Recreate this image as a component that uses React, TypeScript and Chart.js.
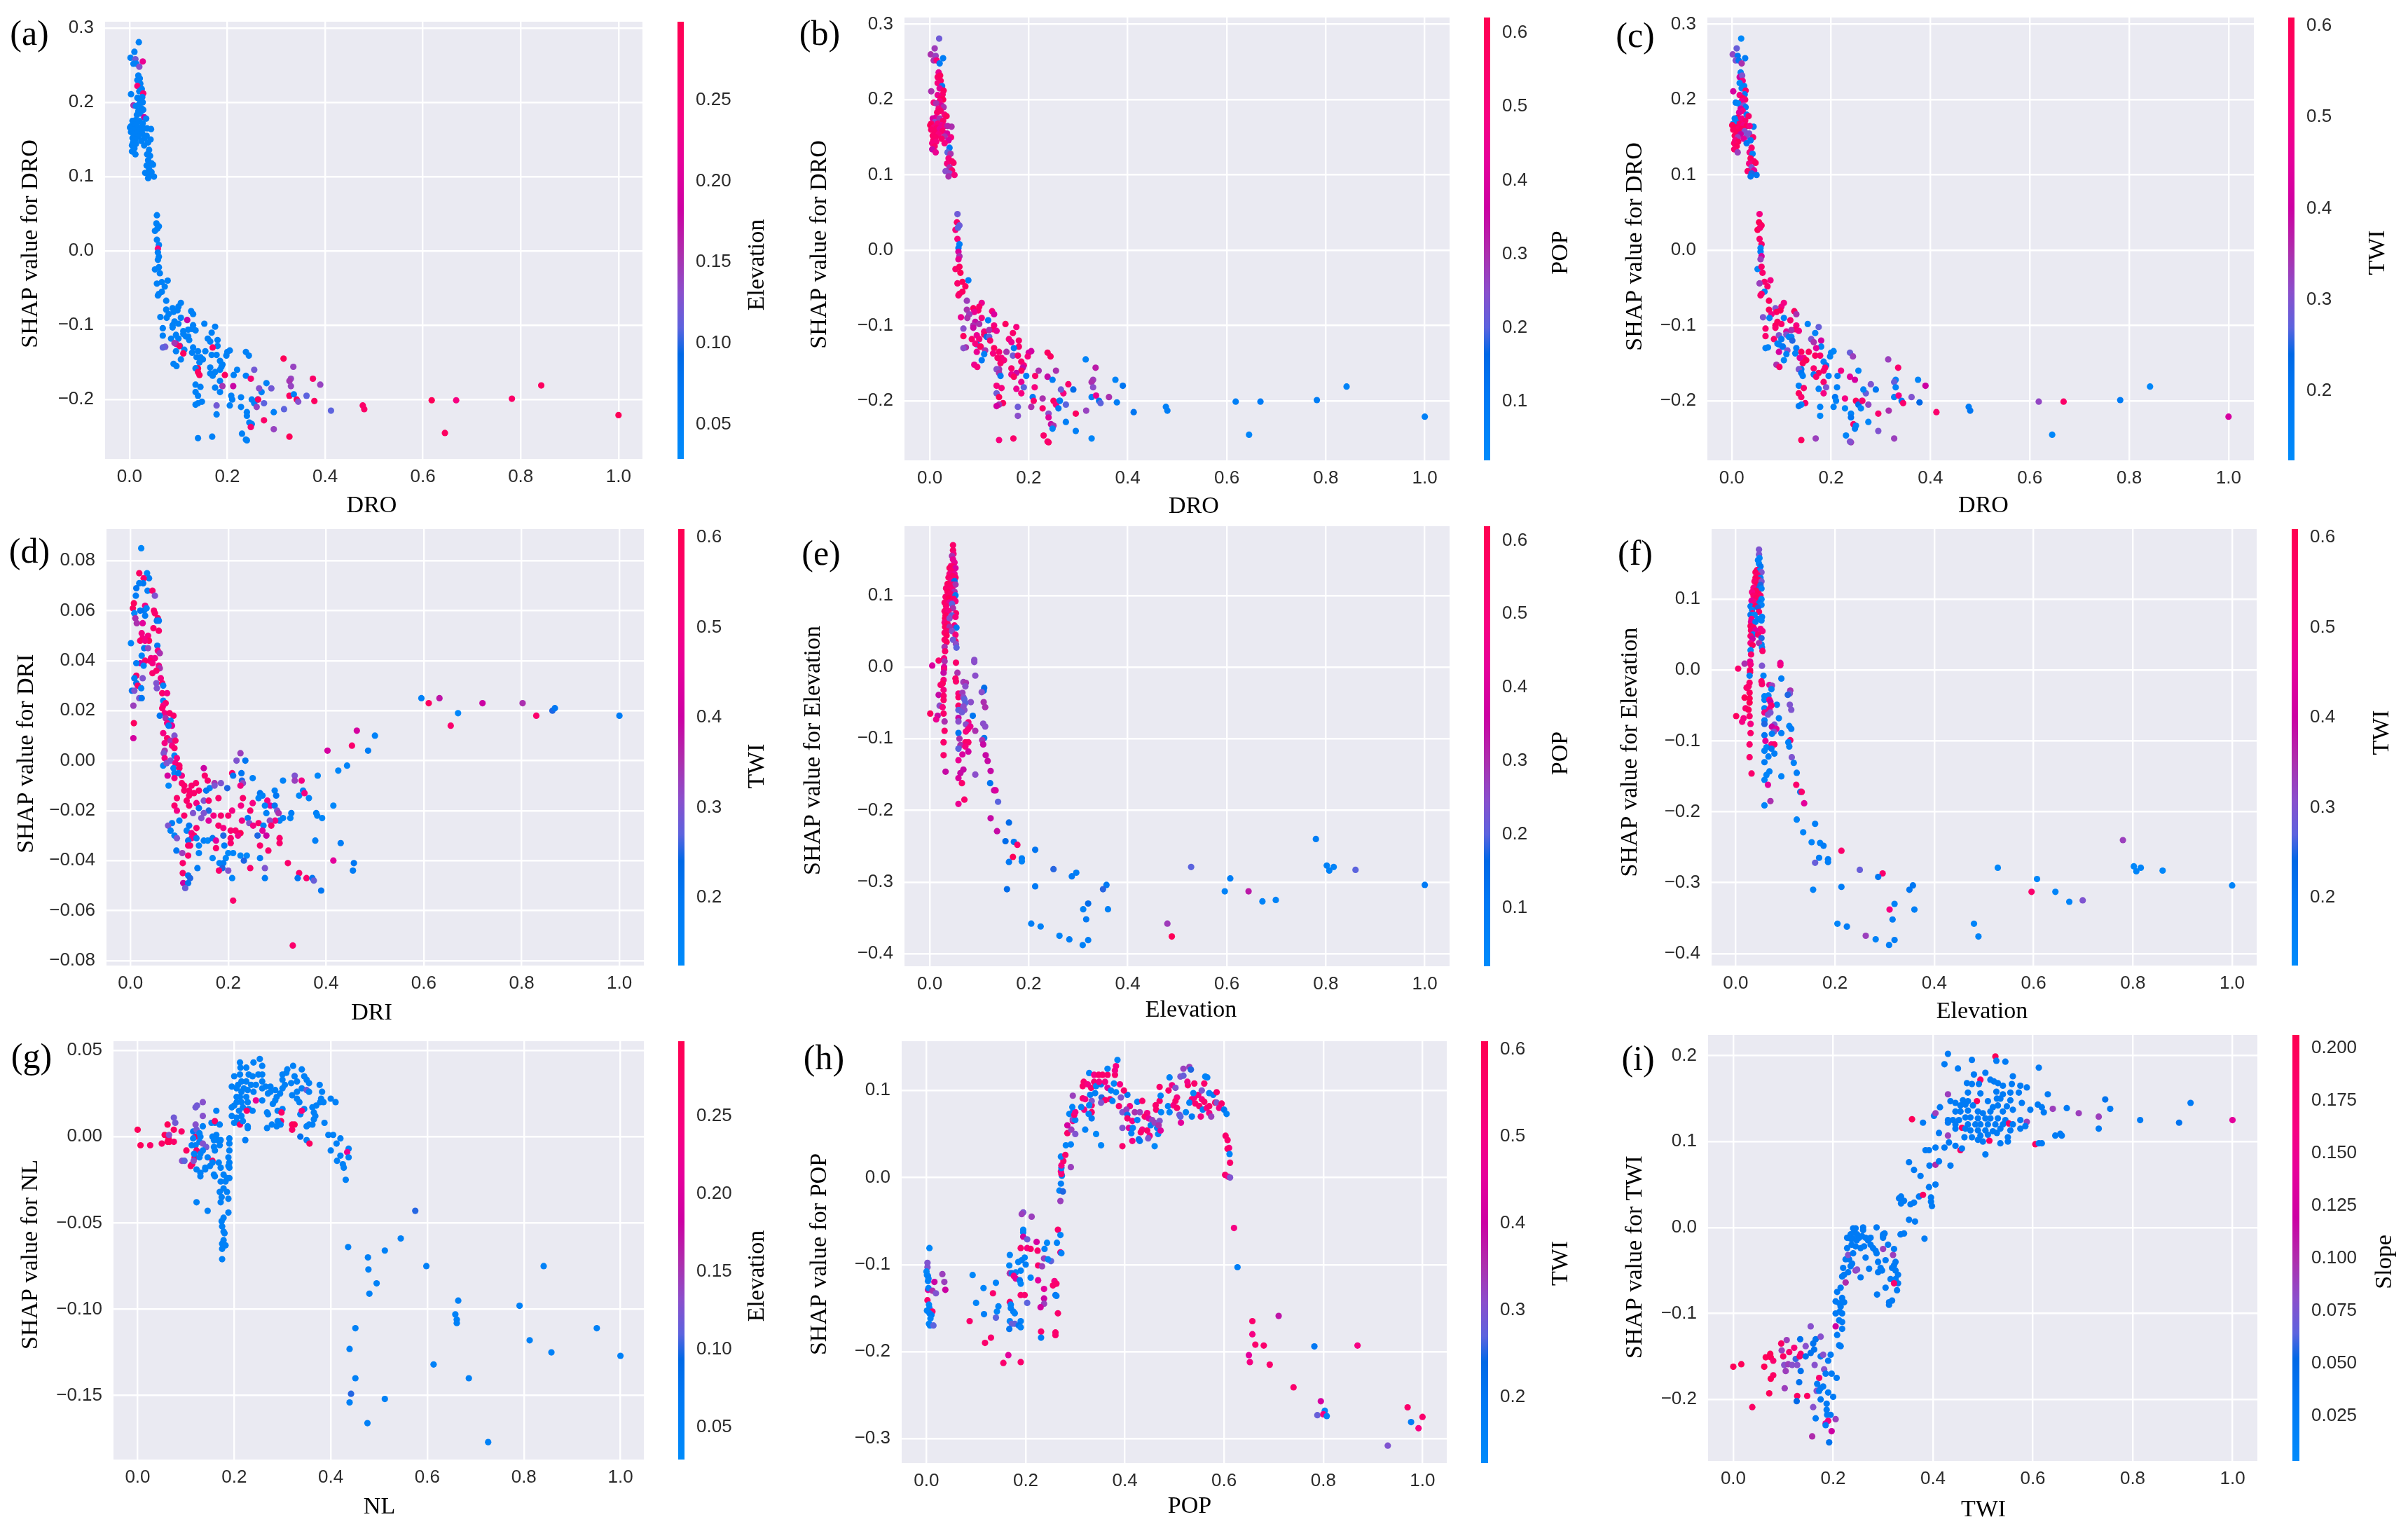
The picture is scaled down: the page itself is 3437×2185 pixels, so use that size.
import React, { useEffect, useRef } from "react";
import { Chart, registerables } from "chart.js";

Chart.register(...registerables);

// [x, shap, elevation, pop, twi]
const droPoints = [
[.019,.281,.05,.22,.13],[.010,.268,.05,.28,.28],[.002,.260,.05,.30,.32],[.012,.258,.12,.27,.2],[.027,.255,.22,.08,.18],[.008,.252,.05,.3,.3],[.014,.252,.05,.5,.2],[.020,.248,.13,.09,.35],[.018,.236,.05,.45,.17],[.016,.230,.05,.55,.4],[.021,.232,.05,.58,.3],[.022,.225,.05,.56,.5],[.016,.222,.25,.5,.13],[.025,.218,.05,.1,.15],[.020,.215,.05,.42,.14],[.028,.212,.25,.58,.55],[.003,.211,.05,.3,.42],[.026,.207,.05,.55,.2],[.016,.206,.05,.45,.5],[.022,.202,.05,.55,.58],[.027,.200,.05,.6,.55],[.020,.198,.05,.5,.48],[.008,.196,.15,.5,.17],[.013,.195,.05,.3,.15],[.024,.192,.05,.4,.3],[.028,.190,.05,.3,.18],[.018,.188,.05,.5,.42],[.022,.185,.05,.55,.5],[.015,.183,.05,.55,.45],[.030,.180,.18,.5,.18],[.034,.178,.05,.58,.55],[.012,.176,.05,.45,.58],[.006,.175,.05,.4,.17],[.020,.175,.05,.3,.5],[.027,.172,.05,.55,.55],[.010,.170,.05,.25,.16],[.016,.168,.05,.5,.55],[.003,.168,.05,.55,.14],[.001,.166,.05,.6,.58],[.024,.166,.05,.45,.5],[.030,.165,.05,.5,.58],[.044,.164,.05,.3,.17],[.036,.165,.05,.32,.5],[.008,.163,.05,.5,.6],[.014,.162,.05,.55,.55],[.020,.161,.05,.45,.58],[.003,.160,.05,.55,.58],[.026,.158,.05,.55,.3],[.010,.157,.05,.55,.58],[.035,.155,.05,.4,.3],[.018,.154,.05,.5,.4],[.006,.152,.05,.55,.58],[.030,.151,.05,.3,.3],[.043,.150,.05,.5,.55],[.012,.150,.05,.55,.33],[.024,.148,.05,.55,.45],[.007,.146,.05,.55,.5],[.038,.146,.05,.4,.18],[.013,.144,.05,.5,.58],[.005,.142,.05,.5,.55],[.030,.142,.05,.5,.2],[.010,.138,.05,.55,.58],[.005,.134,.05,.35,.55],[.040,.136,.05,.1,.55],[.012,.130,.05,.45,.33],[.036,.130,.05,.2,.5],[.042,.128,.05,.3,.16],[.038,.122,.05,.5,.58],[.045,.118,.05,.55,.55],[.048,.116,.05,.55,.58],[.035,.115,.05,.5,.5],[.040,.110,.05,.3,.3],[.032,.105,.05,.25,.55],[.045,.106,.05,.55,.45],[.040,.102,.05,.25,.25],[.050,.100,.05,.5,.2],[.038,.098,.05,.3,.2],
[.056,.048,.05,.22,.5],[.055,.037,.05,.55,.6],[.060,.033,.05,.22,.58],[.052,.027,.05,.5,.6],[.057,.030,.05,.2,.55],[.056,.015,.05,.5,.55],[.060,.008,.05,.08,.55],[.058,.003,.25,.1,.14],[.058,-.002,.05,.4,.17],[.060,-.008,.05,.3,.42],[.058,-.012,.05,.45,.33],[.052,-.025,.05,.55,.14],[.060,-.022,.05,.58,.55],[.062,-.030,.05,.6,.55],[.078,-.040,.05,.08,.5],[.066,-.042,.05,.6,.55],[.056,-.044,.05,.55,.33],[.072,-.048,.05,.58,.55],[.066,-.055,.05,.58,.15],[.060,-.058,.05,.58,.55],[.058,-.060,.05,.55,.55],[.075,-.067,.05,.28,.58],[.105,-.070,.05,.45,.5],[.100,-.075,.05,.55,.5],[.126,-.081,.05,.5,.58],[.088,-.077,.05,.58,.3],[.075,-.079,.05,.3,.58],[.098,-.080,.05,.55,.58],[.130,-.085,.05,.4,.35],[.090,-.082,.05,.45,.58],[.080,-.085,.05,.28,.5],[.063,-.089,.05,.45,.3],[.076,-.090,.05,.3,.15],[.105,-.090,.05,.5,.16],[.092,-.095,.05,.35,.58],[.118,-.093,.18,.08,.55],[.088,-.100,.05,.3,.58],[.100,-.098,.05,.3,.55],[.153,-.098,.05,.58,.15],[.068,-.104,.05,.25,.55],[.088,-.103,.05,.35,.55],[.175,-.102,.05,.5,.28],[.130,-.100,.05,.5,.5],[.128,-.105,.05,.55,.55],[.110,-.108,.05,.5,.45],[.120,-.106,.05,.3,.35],[.135,-.107,.05,.45,.5],[.110,-.112,.05,.55,.3],[.168,-.110,.05,.55,.16],[.095,-.113,.05,.45,.3],[.068,-.114,.05,.58,.55],[.115,-.115,.05,.15,.15],[.085,-.118,.05,.55,.55],[.120,-.115,.05,.2,.15],[.100,-.118,.05,.5,.18],[.160,-.118,.05,.5,.3],[.180,-.120,.05,.55,.42],[.122,-.120,.05,.55,.25],[.165,-.122,.05,.45,.35],[.103,-.128,.05,.5,.14],[.073,-.129,.12,.3,.15],[.068,-.130,.11,.25,.16],[.095,-.125,.2,.12,.16],[.102,-.128,.27,.58,.2],[.092,-.124,.15,.5,.16],[.180,-.128,.05,.55,.15],[.130,-.130,.05,.58,.18],[.170,-.130,.27,.1,.45],[.112,-.133,.05,.3,.3],[.095,-.135,.05,.45,.42],[.140,-.135,.05,.55,.58],[.205,-.134,.05,.38,.14],[.200,-.136,.05,.4,.15],[.128,-.137,.05,.5,.16],[.155,-.135,.05,.3,.58],[.238,-.136,.05,.58,.28],[.110,-.138,.28,.08,.17],[.198,-.141,.05,.5,.15],[.244,-.141,.05,.58,.33],[.168,-.140,.05,.22,.58],[.145,-.143,.05,.5,.5],[.178,-.140,.05,.55,.55],[.137,-.143,.05,.55,.45],[.150,-.146,.05,.5,.6],[.105,-.146,.05,.1,.14],[.185,-.148,.05,.55,.16],[.143,-.150,.05,.55,.58],[.090,-.152,.05,.45,.35],[.096,-.155,.05,.5,.55],[.190,-.153,.05,.5,.2],[.165,-.157,.05,.55,.55],[.140,-.158,.29,.3,.2],[.188,-.156,.05,.35,.55],[.135,-.158,.05,.25,.3],[.140,-.163,.28,.3,.2],[.185,-.160,.05,.58,.55],[.175,-.163,.05,.35,.58],[.143,-.167,.28,.1,.17],[.165,-.165,.05,.45,.18],[.170,-.168,.05,.58,.55],[.195,-.167,.28,.08,.15],[.213,-.167,.05,.55,.18],[.220,-.160,.05,.3,.5],[.238,-.168,.05,.35,.45],[.255,-.160,.12,.3,.14],[.248,-.172,.26,.08,.42],[.185,-.175,.05,.45,.55],[.315,-.145,.29,.06,.33],[.335,-.156,.14,.33,.55],[.375,-.172,.27,.06,.15],[.330,-.172,.14,.28,.15],[.327,-.175,.15,.3,.28],[.330,-.182,.14,.25,.15],[.390,-.180,.14,.12,.4],[.290,-.185,.12,.15,.2],[.280,-.178,.05,.55,.3],[.270,-.190,.05,.5,.28],[.265,-.185,.13,.22,.15],[.135,-.180,.05,.5,.16],[.145,-.183,.05,.5,.55],[.175,-.184,.05,.45,.16],[.212,-.182,.18,.5,.16],[.190,-.182,.15,.2,.3],[.185,-.190,.05,.5,.5],[.135,-.190,.05,.22,.58],[.140,-.195,.05,.6,.55],[.208,-.195,.05,.1,.2],[.210,-.200,.05,.55,.16],[.228,-.197,.05,.3,.5],[.250,-.200,.05,.58,.58],[.262,-.200,.05,.08,.28],[.255,-.205,.05,.5,.22],[.263,-.200,.28,.08,.55],[.327,-.195,.28,.06,.16],[.336,-.193,.05,.45,.5],[.362,-.195,.11,.3,.3],[.342,-.200,.28,.12,.2],[.345,-.203,.13,.2,.55],[.378,-.202,.28,.08,.24],[.148,-.203,.05,.58,.55],[.140,-.205,.05,.3,.14],[.135,-.207,.05,.38,.18],[.205,-.208,.05,.3,.16],[.178,-.208,.12,.22,.16],[.275,-.205,.11,.2,.32],[.260,-.210,.14,.1,.15],[.228,-.210,.05,.55,.14],[.316,-.213,.11,.27,.35],[.295,-.217,.05,.58,.55],[.412,-.215,.11,.12,.55],[.240,-.217,.05,.25,.16],[.178,-.220,.05,.25,.14],[.240,-.222,.05,.42,.2],[.477,-.208,.27,.07,.18],[.480,-.213,.27,.08,.2],[.618,-.201,.29,.07,.32],[.668,-.201,.24,.09,.56],[.782,-.199,.27,.08,.18],[.842,-.181,.28,.06,.14],[1.0,-.221,.29,.07,.42],[.645,-.245,.28,.05,.14],[.275,-.228,.27,.08,.14],[.245,-.231,.05,.35,.55],[.250,-.233,.05,.3,.15],[.248,-.237,.26,.06,.17],[.295,-.240,.14,.07,.3],[.327,-.250,.29,.05,.33],[.140,-.252,.05,.5,.58],[.169,-.250,.05,.55,.33],[.230,-.246,.05,.55,.15],[.240,-.255,.05,.58,.33],[.238,-.254,.05,.55,.3]
];

// [x, shap, twi]
const driPoints = [
[.022,.085,.14],[.018,.075,.57],[.034,.075,.14],[.038,.073,.17],[.027,.073,.55],[.026,.071,.2],[.018,.071,.18],[.012,.069,.2],[.035,.068,.17],[.045,.068,.55],[.050,.066,.3],[.011,.066,.18],[.007,.063,.58],[.005,.061,.58],[.030,.062,.5],[.028,.060,.18],[.033,.061,.15],[.020,.060,.2],[.048,.060,.55],[.008,.059,.14],[.030,.058,.18],[.050,.059,.55],[.056,.057,.58],[.010,.057,.35],[.054,.056,.2],[.058,.056,.18],[.013,.055,.35],[.025,.055,.45],[.047,.053,.55],[.058,.052,.55],[.023,.051,.5],[.036,.050,.5],[.025,.049,.5],[.038,.048,.58],[.020,.048,.55],[.030,.048,.5],[.001,.047,.14],[.055,.046,.2],[.028,.045,.2],[.036,.045,.32],[.056,.044,.5],[.060,.043,.35],[.023,.042,.16],[.042,.041,.5],[.050,.041,.5],[.030,.040,.55],[.040,.040,.55],[.020,.039,.4],[.012,.039,.18],[.045,.039,.5],[.027,.038,.15],[.058,.038,.5],[.060,.037,.35],[.045,.035,.55],[.053,.036,.55],[.012,.034,.55],[.008,.033,.18],[.025,.033,.3],[.062,.033,.5],[.053,.031,.3],[.065,.031,.55],[.012,.031,.2],[.015,.030,.55],[.067,.030,.16],[.022,.029,.16],[.054,.029,.3],[.003,.028,.2],[.008,.028,.3],[.065,.027,.55],[.075,.027,.5],[.018,.025,.3],[.023,.025,.2],[.067,.024,.16],[.072,.023,.55],[.067,.022,.5],[.006,.022,.33],[.065,.021,.55],[.070,.019,.5],[.080,.019,.55],[.088,.018,.55],[.060,.018,.2],[.072,.017,.35],[.082,.016,.15],[.075,.015,.5],[.085,.014,.45],[.007,.015,.58],[.078,.014,.18],[.067,.011,.5],[.090,.010,.3],[.075,.009,.55],[.070,.007,.5],[.082,.008,.35],[.092,.008,.55],[.085,.006,.5],[.090,.005,.55],[.006,.009,.42],[.070,.004,.35],[.068,.003,.3],[.070,.001,.5],[.082,.000,.3],[.090,.002,.16],[.095,.001,.5],[.092,-.001,.5],[.067,-.002,.14],[.074,-.001,.3],[.100,-.002,.55],[.088,-.003,.16],[.090,-.005,.16],[.100,-.003,.55],[.076,-.006,.42],[.105,-.006,.5],[.098,-.005,.2],[.090,-.007,.5],[.105,-.009,.55],[.078,-.010,.14],[.110,-.010,.55],[.120,-.012,.55],[.125,-.010,.55],[.134,-.009,.55],[.150,-.003,.4],[.152,-.006,.55],[.158,-.008,.55],[.162,-.011,.15],[.155,-.012,.2],[.140,-.012,.55],[.130,-.013,.55],[.110,-.012,.55],[.120,-.014,.55],[.172,-.009,.35],[.172,-.010,.3],[.185,-.009,.3],[.208,-.005,.55],[.210,-.006,.2],[.227,-.005,.2],[.228,-.008,.25],[.230,-.009,.32],[.225,-.010,.5],[.250,-.007,.16],[.198,-.011,.25],[.235,.000,.2],[.217,.000,.3],[.225,.003,.33],[.312,-.008,.16],[.336,-.006,.3],[.336,-.008,.33],[.350,-.008,.5],[.383,-.006,.14],[.403,.004,.42],[.453,.006,.55],[.463,.012,.42],[.486,.004,.18],[.500,.010,.16],[.425,-.004,.14],[.443,-.002,.15],[.595,.025,.16],[.610,.023,.58],[.632,.025,.38],[.720,.023,.4],[.802,.023,.35],[.830,.018,.55],[.863,.020,.25],[.868,.021,.2],[.655,.014,.55],[.670,.019,.14],[1.0,.018,.18],[.415,-.018,.14],[.365,-.015,.15],[.353,-.012,.16],[.345,-.014,.14],[.356,-.013,.5],[.295,-.012,.16],[.298,-.014,.2],[.265,-.013,.2],[.270,-.014,.16],[.262,-.015,.15],[.280,-.016,.5],[.286,-.018,.45],[.275,-.018,.16],[.295,-.018,.2],[.250,-.017,.5],[.300,-.020,.3],[.303,-.021,.35],[.278,-.021,.16],[.245,-.020,.55],[.230,-.015,.55],[.226,-.018,.5],[.329,-.021,.17],[.327,-.023,.15],[.380,-.021,.16],[.382,-.022,.15],[.392,-.023,.14],[.312,-.023,.16],[.305,-.024,.16],[.296,-.024,.5],[.285,-.024,.32],[.240,-.023,.17],[.228,-.024,.5],[.243,-.025,.3],[.262,-.025,.55],[.251,-.026,.5],[.288,-.026,.55],[.272,-.026,.16],[.120,-.018,.55],[.135,-.017,.5],[.150,-.016,.3],[.160,-.016,.55],[.180,-.015,.55],[.200,-.022,.55],[.208,-.020,.5],[.185,-.022,.55],[.160,-.020,.25],[.150,-.021,.3],[.115,-.016,.55],[.095,-.015,.55],[.090,-.018,.55],[.095,-.020,.5],[.110,-.022,.55],[.128,-.021,.3],[.140,-.019,.2],[.170,-.022,.5],[.160,-.024,.45],[.145,-.023,.3],[.135,-.027,.55],[.100,-.024,.16],[.120,-.026,.2],[.085,-.025,.18],[.077,-.026,.3],[.082,-.028,.16],[.090,-.030,.16],[.095,-.031,.3],[.115,-.028,.16],[.125,-.029,.5],[.130,-.030,.55],[.125,-.031,.5],[.135,-.031,.18],[.118,-.032,.2],[.150,-.032,.17],[.158,-.032,.14],[.168,-.031,.2],[.180,-.026,.55],[.190,-.027,.5],[.205,-.028,.55],[.215,-.028,.55],[.225,-.029,.6],[.220,-.030,.5],[.205,-.031,.55],[.190,-.030,.25],[.175,-.032,.45],[.270,-.028,.45],[.260,-.030,.25],[.278,-.030,.4],[.305,-.031,.55],[.305,-.033,.55],[.378,-.032,.17],[.430,-.033,.18],[.118,-.034,.55],[.122,-.034,.55],[.140,-.034,.15],[.175,-.035,.55],[.192,-.034,.18],[.205,-.033,.55],[.094,-.036,.2],[.106,-.037,.33],[.118,-.038,.55],[.140,-.037,.16],[.200,-.037,.14],[.210,-.037,.15],[.225,-.038,.14],[.238,-.038,.14],[.265,-.034,.55],[.282,-.036,.55],[.168,-.039,.14],[.182,-.041,.15],[.195,-.039,.14],[.190,-.041,.18],[.265,-.039,.18],[.232,-.040,.25],[.107,-.041,.55],[.322,-.041,.55],[.415,-.040,.45],[.457,-.041,.2],[.137,-.043,.18],[.188,-.043,.25],[.200,-.044,.3],[.181,-.044,.55],[.245,-.043,.55],[.275,-.043,.3],[.107,-.045,.55],[.345,-.045,.55],[.455,-.044,.18],[.118,-.046,.2],[.122,-.047,.25],[.275,-.047,.18],[.342,-.047,.2],[.360,-.047,.55],[.372,-.047,.2],[.375,-.048,.28],[.208,-.047,.14],[.108,-.049,.4],[.118,-.049,.2],[.112,-.051,.28],[.390,-.052,.2],[.210,-.056,.55],[.332,-.074,.55]
];

// [x, shap, pop, twi]
const elevationPoints = [
[.047,.170,.55,.3],[.047,.163,.55,.3],[.048,.158,.5,.14],[.045,.155,.3,.16],[.047,.150,.45,.15],[.050,.146,.45,.2],[.043,.141,.5,.55],[.048,.140,.55,.14],[.040,.138,.58,.58],[.052,.138,.4,.3],[.044,.134,.55,.55],[.050,.130,.45,.16],[.040,.130,.5,.58],[.046,.127,.55,.58],[.052,.125,.55,.3],[.038,.125,.55,.55],[.043,.120,.5,.58],[.050,.120,.15,.25],[.036,.116,.58,.5],[.047,.115,.55,.25],[.052,.115,.3,.16],[.041,.112,.55,.58],[.033,.110,.55,.5],[.046,.108,.5,.58],[.036,.105,.58,.55],[.050,.105,.3,.55],[.042,.102,.55,.58],[.052,.100,.1,.14],[.032,.098,.55,.45],[.038,.096,.6,.5],[.048,.095,.55,.2],[.052,.092,.5,.16],[.030,.090,.55,.18],[.040,.090,.45,.58],[.045,.088,.2,.25],[.033,.085,.55,.16],[.034,.080,.5,.55],[.047,.082,.3,.55],[.030,.078,.55,.2],[.038,.078,.5,.16],[.053,.075,.55,.17],[.032,.072,.58,.5],[.045,.072,.2,.16],[.031,.068,.58,.45],[.040,.068,.25,.18],[.052,.070,.5,.16],[.030,.062,.5,.58],[.036,.060,.55,.55],[.050,.058,.5,.5],[.031,.056,.58,.55],[.040,.056,.3,.45],[.054,.055,.1,.5],[.035,.050,.55,.16],[.045,.050,.25,.55],[.030,.048,.55,.55],[.034,.044,.58,.4],[.052,.045,.5,.25],[.030,.038,.55,.5],[.052,.036,.55,.16],[.047,.038,.22,.35],[.034,.035,.58,.58],[.053,.032,.25,.16],[.030,.028,.3,.14],[.054,.027,.2,.55],[.031,.022,.55,.55],[.029,.012,.5,.45],[.018,.009,.55,.35],[.030,.008,.3,.5],[.053,.006,.55,.3],[.005,.002,.4,.55],[.029,.000,.4,.55],[.090,.010,.25,.45],[.090,.007,.25,.5],[.029,-.003,.5,.58],[.028,-.008,.35,.17],[.056,-.008,.3,.16],[.092,-.012,.25,.17],[.052,-.016,.55,.55],[.053,-.020,.55,.55],[.028,-.018,.5,.55],[.068,-.021,.28,.45],[.073,-.022,.3,.33],[.026,-.023,.58,.55],[.072,-.027,.25,.16],[.022,-.025,.55,.55],[.110,-.029,.15,.35],[.109,-.033,.15,.3],[.105,-.035,.25,.25],[.028,-.032,.5,.58],[.058,-.037,.5,.16],[.066,-.036,.28,.15],[.018,-.039,.35,.6],[.028,-.040,.55,.6],[.058,-.042,.55,.16],[.068,-.042,.25,.5],[.028,-.046,.55,.6],[.070,-.045,.2,.4],[.083,-.049,.25,.16],[.109,-.049,.3,.3],[.072,-.050,.2,.55],[.058,-.054,.55,.16],[.068,-.055,.25,.5],[.020,-.054,.25,.55],[.112,-.056,.3,.3],[.026,-.056,.5,.58],[.058,-.060,.2,.5],[.070,-.060,.25,.3],[.065,-.063,.22,.3],[.001,-.065,.58,.58],[.028,-.065,.55,.55],[.058,-.071,.35,.16],[.087,-.068,.12,.16],[.016,-.068,.35,.5],[.013,-.073,.45,.5],[.030,-.076,.3,.5],[.058,-.076,.25,.25],[.078,-.077,.5,.3],[.108,-.079,.25,.15],[.073,-.080,.25,.4],[.082,-.083,.45,.45],[.112,-.083,.25,.18],[.077,-.087,.5,.3],[.073,-.090,.5,.18],[.030,-.089,.55,.55],[.092,-.089,.3,.17],[.058,-.092,.12,.2],[.110,-.099,.12,.55],[.060,-.100,.3,.45],[.106,-.102,.3,.16],[.028,-.105,.55,.55],[.072,-.105,.55,.5],[.078,-.105,.55,.55],[.108,-.108,.35,.16],[.062,-.109,.3,.15],[.072,-.111,.5,.2],[.058,-.114,.2,.16],[.078,-.118,.38,.18],[.028,-.123,.55,.55],[.066,-.122,.4,.17],[.113,-.123,.35,.3],[.058,-.130,.45,.18],[.117,-.131,.35,.16],[.032,-.146,.35,.55],[.068,-.143,.35,.16],[.062,-.148,.35,.15],[.123,-.145,.35,.17],[.092,-.150,.25,.15],[.058,-.155,.4,.15],[.065,-.162,.55,.45],[.122,-.162,.12,.55],[.130,-.172,.35,.16],[.133,-.172,.4,.55],[.070,-.185,.55,.35],[.058,-.191,.45,.15],[.138,-.188,.2,.45],[.123,-.211,.35,.15],[.160,-.217,.15,.17],[.136,-.229,.35,.15],[.153,-.243,.15,.15],[.170,-.244,.1,.16],[.177,-.248,.55,.18],[.168,-.265,.6,.17],[.160,-.272,.1,.28],[.186,-.267,.08,.18],[.186,-.271,.06,.17],[.213,-.255,.12,.55],[.250,-.282,.18,.28],[.296,-.287,.08,.55],[.287,-.292,.1,.2],[.156,-.310,.15,.16],[.213,-.306,.1,.18],[.357,-.304,.1,.2],[.350,-.310,.18,.2],[.528,-.279,.2,.14],[.607,-.295,.08,.14],[.596,-.313,.06,.55],[.644,-.313,.33,.15],[.672,-.327,.06,.15],[.699,-.325,.06,.3],[.780,-.240,.08,.33],[.802,-.277,.07,.14],[.807,-.284,.07,.15],[.816,-.279,.06,.15],[.860,-.283,.2,.14],[1.0,-.304,.1,.15],[.310,-.338,.06,.5],[.320,-.330,.15,.16],[.360,-.338,.07,.17],[.316,-.352,.1,.18],[.205,-.358,.08,.15],[.224,-.362,.07,.18],[.262,-.375,.06,.33],[.282,-.380,.08,.16],[.320,-.381,.08,.18],[.309,-.388,.07,.17],[.480,-.358,.28,.15],[.489,-.376,.6,.15]
];

// [x, shap, elevation]
const nlPoints = [
[.000,.004,.29],[.006,-.005,.29],[.026,-.005,.27],[.050,-.004,.27],[.062,.007,.29],[.056,.001,.29],[.064,-.001,.28],[.066,-.003,.28],[.062,-.003,.29],[.075,.004,.28],[.075,.011,.12],[.078,.008,.12],[.065,.001,.13],[.075,-.003,.27],[.091,.003,.27],[.101,-.008,.28],[.092,-.014,.13],[.097,-.014,.11],[.110,-.017,.28],[.113,-.016,.27],[.118,-.012,.28],[.116,-.014,.13],[.120,.000,.28],[.115,.003,.07],[.115,-.001,.05],[.112,-.005,.05],[.120,-.005,.05],[.122,-.008,.27],[.117,-.010,.05],[.120,.007,.13],[.122,.004,.12],[.120,.017,.12],[.123,.018,.12],[.135,.020,.13],[.135,.012,.13],[.135,.006,.05],[.128,.002,.05],[.130,.000,.05],[.128,-.003,.05],[.135,-.004,.13],[.142,-.006,.12],[.135,-.008,.05],[.130,-.010,.05],[.145,-.012,.05],[.128,-.012,.05],[.155,-.014,.27],[.140,-.018,.05],[.150,-.017,.05],[.122,-.019,.05],[.130,-.021,.05],[.140,-.019,.05],[.130,-.023,.05],[.158,-.022,.05],[.160,-.023,.05],[.153,.008,.05],[.160,.008,.05],[.160,.009,.27],[.163,.015,.05],[.170,.007,.05],[.155,.000,.05],[.163,.001,.05],[.158,-.002,.05],[.166,-.002,.05],[.172,-.002,.05],[.158,-.006,.05],[.170,-.005,.05],[.160,-.008,.05],[.155,-.015,.05],[.168,-.015,.05],[.172,-.018,.05],[.190,-.001,.05],[.190,-.004,.05],[.190,-.008,.05],[.188,-.012,.05],[.190,-.015,.05],[.188,-.017,.05],[.190,-.018,.05],[.172,-.026,.05],[.178,-.022,.05],[.185,-.024,.05],[.190,-.024,.05],[.182,-.026,.05],[.170,-.032,.05],[.178,-.030,.05],[.185,-.032,.05],[.174,-.035,.05],[.188,-.036,.05],[.172,-.038,.05],[.122,-.038,.05],[.145,-.043,.05],[.188,-.044,.05],[.178,-.047,.05],[.174,-.049,.05],[.175,-.052,.05],[.178,-.055,.05],[.180,-.056,.05],[.178,-.060,.05],[.175,-.062,.05],[.182,-.063,.05],[.175,-.065,.05],[.175,-.071,.05],
[.212,.043,.05],[.213,.040,.05],[.212,.036,.05],[.200,.035,.05],[.225,.040,.05],[.230,.036,.05],[.240,.043,.05],[.253,.045,.05],[.258,.041,.05],[.215,.032,.05],[.225,.032,.05],[.238,.035,.05],[.250,.036,.05],[.258,.036,.05],[.208,.030,.05],[.220,.028,.05],[.235,.030,.05],[.245,.030,.05],[.258,.032,.05],[.195,.029,.05],[.205,.028,.05],[.215,.026,.05],[.228,.027,.05],[.240,.026,.05],[.265,.029,.05],[.258,.028,.05],[.275,.029,.05],[.285,.027,.05],[.275,.026,.05],[.270,.025,.05],[.212,.023,.05],[.205,.023,.05],[.225,.023,.05],[.228,.020,.05],[.215,.020,.05],[.205,.020,.05],[.200,.018,.05],[.195,.017,.05],[.218,.017,.05],[.245,.021,.22],[.258,.021,.05],[.230,.016,.05],[.238,.015,.05],[.226,.015,.27],[.210,.015,.05],[.195,.012,.05],[.205,.011,.05],[.215,.012,.05],[.200,.008,.05],[.208,.008,.05],[.212,.007,.27],[.218,.009,.05],[.228,.006,.05],[.228,.005,.05],[.223,-.002,.06],[.268,.014,.05],[.270,.013,.05],[.278,.007,.05],[.268,.005,.05],[.290,.015,.05],[.300,.016,.05],[.280,.019,.05],[.288,.023,.05],[.285,.021,.05],[.295,.025,.05],[.300,.028,.05],[.305,.030,.05],[.300,.033,.05],[.308,.037,.05],[.310,.039,.05],[.300,.036,.05],[.322,.041,.05],[.325,.035,.05],[.318,.031,.05],[.330,.032,.05],[.340,.039,.05],[.345,.035,.05],[.350,.033,.05],[.355,.031,.05],[.340,.028,.05],[.330,.026,.05],[.320,.024,.05],[.350,.027,.12],[.355,.026,.05],[.335,.020,.05],[.330,.022,.05],[.345,.016,.05],[.362,.017,.05],[.370,.018,.05],[.380,.022,.05],[.377,.030,.05],[.382,.026,.05],[.378,.020,.05],[.385,.020,.05],[.400,.022,.05],[.410,.020,.05],[.365,.014,.05],[.368,.012,.05],[.365,.010,.05],[.337,.013,.05],[.340,.015,.25],[.298,.014,.27],[.297,.009,.27],[.290,.009,.05],[.296,.007,.05],[.288,.006,.05],[.320,.007,.28],[.325,.007,.29],[.320,.004,.27],[.355,.007,.05],[.362,.007,.05],[.350,.006,.05],[.387,.008,.05],[.395,.001,.05],[.405,.001,.05],[.337,.000,.08],[.350,-.002,.05],[.356,-.004,.28],[.420,-.001,.05],[.412,-.004,.05],[.400,-.008,.05],[.437,-.007,.05],[.434,-.009,.22],[.420,-.011,.05],[.413,-.014,.05],[.437,-.012,.05],[.425,-.016,.05],[.427,-.018,.05],[.431,-.025,.05],
[.575,-.043,.1],[.436,-.064,.05],[.545,-.059,.05],[.512,-.066,.05],[.477,-.070,.05],[.478,-.077,.05],[.598,-.075,.05],[.841,-.075,.05],[.495,-.085,.05],[.480,-.091,.05],[.664,-.095,.05],[.791,-.098,.05],[.658,-.103,.05],[.661,-.106,.05],[.661,-.108,.05],[.451,-.111,.05],[.951,-.111,.05],[.812,-.118,.05],[.439,-.123,.05],[.857,-.125,.05],[1.0,-.127,.05],[.613,-.132,.05],[.451,-.140,.05],[.686,-.140,.05],[.442,-.149,.1],[.512,-.152,.05],[.439,-.154,.05],[.476,-.166,.05],[.726,-.177,.05]
];

// [x, shap, twi]
const popPoints = [
[.006,-.081,.14],[.002,-.098,.3],[.002,-.103,.3],[.000,-.108,.14],[.001,-.112,.14],[.003,-.113,.16],[.004,-.116,.17],[.003,-.119,.16],[.016,-.120,.4],[.032,-.111,.33],[.036,-.120,.33],[.038,-.129,.4],[.003,-.129,.45],[.004,-.127,.16],[.012,-.130,.35],[.019,-.133,.3],[.002,-.141,.55],[.005,-.146,.14],[.006,-.150,.15],[.001,-.153,.15],[.012,-.154,.55],[.006,-.156,.16],[.010,-.158,.18],[.008,-.162,.15],[.005,-.168,.14],[.007,-.170,.16],[.014,-.170,.27],
[.093,-.112,.14],[.115,-.127,.15],[.140,-.121,.15],[.134,-.133,.55],[.100,-.144,.15],[.145,-.148,.15],[.142,-.154,.14],[.116,-.157,.17],[.140,-.161,.27],[.087,-.165,.55],[.130,-.184,.55],[.118,-.190,.55],[.165,-.204,.45],[.155,-.213,.55],[.190,-.212,.55],
[.168,-.089,.15],[.167,-.101,.14],[.195,-.040,.3],[.192,-.042,.33],[.212,-.045,.33],[.195,-.060,.14],[.195,-.063,.16],[.195,-.068,.4],[.203,-.071,.28],[.222,-.074,.42],[.265,-.060,.55],[.270,-.066,.15],[.243,-.075,.14],[.263,-.075,.16],[.270,-.086,.5],[.272,-.087,.16],[.238,-.082,.15],[.203,-.081,.5],[.190,-.081,.55],[.210,-.082,.55],[.224,-.084,.55],[.198,-.092,.15],[.192,-.095,.17],[.185,-.097,.15],[.237,-.093,.33],[.251,-.096,.27],[.245,-.094,.14],[.225,-.101,.55],[.233,-.102,.33],[.200,-.100,.17],[.190,-.107,.15],[.180,-.109,.15],[.168,-.110,.35],[.172,-.110,.2],[.210,-.115,.15],[.176,-.113,.5],[.180,-.116,.45],[.188,-.118,.2],[.225,-.118,.45],[.190,-.122,.15],[.258,-.119,.5],[.262,-.122,.55],[.255,-.124,.55],[.237,-.128,.45],[.190,-.135,.55],[.198,-.135,.55],[.260,-.135,.2],[.262,-.136,.17],[.237,-.139,.4],[.168,-.143,.55],[.170,-.146,.15],[.203,-.144,.27],[.237,-.145,.33],[.170,-.150,.16],[.175,-.154,.17],[.230,-.149,.42],[.178,-.156,.15],[.265,-.156,.55],[.168,-.165,.14],[.190,-.165,.16],[.178,-.168,.27],[.172,-.168,.28],[.186,-.170,.2],[.190,-.172,.15],[.167,-.174,.2],[.231,-.177,.55],[.260,-.178,.55],[.260,-.181,.55],[.231,-.184,.18],
[.270,-.027,.33],[.268,-.015,.15],[.275,-.016,.25],[.271,-.007,.17],[.273,.002,.15],[.272,.004,.55],[.271,.007,.5],[.272,.011,.18],[.291,.012,.33],[.272,.014,.5],[.276,.019,.55],[.271,.024,.16],[.280,.026,.55],[.281,.037,.15],[.291,.038,.15],[.284,.051,.55],[.292,.055,.33],[.284,.060,.42],[.300,.050,.3],[.320,.055,.16],[.342,.050,.14],[.352,.037,.14],[.295,.065,.5],[.295,.067,.3],[.300,.066,.15],[.333,.068,.18],[.288,.073,.15],[.295,.075,.17],[.298,.072,.55],[.300,.075,.5],[.318,.078,.5],[.312,.081,.17],[.294,.081,.15],[.333,.075,.55],[.327,.073,.16],[.333,.083,.55],[.315,.091,.55],[.320,.090,.5],[.333,.088,.3],[.295,.094,.33],[.328,.083,.15],[.330,.095,.17],[.315,.105,.55],[.317,.110,.55],[.332,.103,.55],[.325,.107,.5],[.338,.110,.55],[.328,.120,.15],[.338,.118,.5],[.347,.118,.55],[.355,.118,.55],[.365,.118,.55],[.342,.105,.16],[.352,.107,.2],[.360,.110,.5],[.348,.110,.5],[.340,.097,.17],[.353,.092,.25],[.360,.089,.55],[.370,.090,.55],[.352,.086,.3],[.375,.088,.16],[.365,.103,.45],[.380,.118,.55],[.380,.123,.5],[.365,.125,.15],[.382,.128,.5],[.385,.135,.15],[.378,.108,.14],[.372,.100,.16],[.382,.098,.15],[.392,.092,.3],[.405,.095,.2],[.395,.075,.3],[.410,.082,.5],[.388,.082,.55],[.403,.078,.33],[.420,.075,.35],[.405,.072,.2],[.390,.107,.5],[.398,.100,.55],[.425,.087,.17],[.435,.088,.55],[.415,.065,.5],[.405,.068,.55],[.425,.066,.16],[.445,.074,.5],[.440,.070,.55],[.430,.075,.33],[.448,.068,.45],[.455,.066,.33],[.408,.057,.45],[.416,.057,.16],[.395,.057,.3],[.413,.051,.16],[.435,.055,.5],[.445,.054,.55],[.432,.052,.55],[.452,.060,.17],[.460,.063,.33],[.450,.048,.5],[.447,.045,.3],[.465,.057,.17],[.467,.050,.15],[.428,.044,.2],[.430,.042,.2],[.415,.042,.5],[.395,.036,.55],[.460,.036,.14],[.472,.054,.45],[.470,.065,.3],[.468,.060,.35],[.462,.083,.55],[.463,.078,.55],[.473,.075,.15],[.470,.104,.55],[.470,.088,.55],[.472,.094,.16],[.487,.082,.16],[.490,.075,.15],[.498,.083,.5],[.488,.100,.55],[.495,.106,.5],[.502,.103,.3],[.505,.092,.5],[.512,.116,.3],[.513,.063,.45],[.505,.080,.55],[.510,.072,.3],[.512,.070,.27],[.523,.075,.14],[.535,.070,.18],[.527,.106,.55],[.526,.110,.5],[.540,.108,.55],[.518,.125,.33],[.518,.117,.28],[.530,.127,.33],[.533,.124,.25],[.502,.088,.55],[.490,.115,.16],[.535,.090,.55],[.540,.092,.5],[.530,.086,.16],[.542,.085,.55],[.550,.082,.55],[.555,.090,.5],[.557,.078,.18],[.548,.095,.5],[.555,.100,.3],[.538,.097,.15],[.560,.087,.55],[.565,.080,.5],[.570,.074,.5],[.553,.070,.5],[.574,.070,.33],[.560,.108,.55],[.562,.116,.15],[.566,.115,.16],[.570,.097,.15],[.578,.095,.17],[.582,.086,.55],[.570,.082,.55],[.585,.098,.55],[.585,.086,.3],[.595,.085,.55],[.590,.080,.5],[.600,.078,.2],[.605,.073,.16],[.603,.048,.55],[.607,.043,.55],[.610,.034,.5],[.607,.033,.55],[.611,.027,.15],[.612,.017,.55],[.602,.003,.55],[.608,.001,.5],[.612,.000,.3],
[.620,-.058,.5],[.627,-.103,.17],[.657,-.165,.55],[.657,-.180,.5],[.663,-.192,.55],[.680,-.193,.55],[.650,-.204,.45],[.652,-.212,.5],[.692,-.215,.55],[.710,-.159,.38],[.740,-.241,.55],[.782,-.194,.2],[.795,-.257,.42],[.788,-.273,.28],[.803,-.268,.15],[.800,-.272,.5],[.807,-.274,.16],[.869,-.193,.5],[.930,-.308,.3],[.970,-.264,.55],[.977,-.281,.18],[.992,-.288,.5],[1.0,-.275,.55]
];

// [x, shap, slope]
const twiPoints = [
[.000,-.162,.2],[.016,-.159,.2],[.038,-.209,.19],[.062,-.162,.2],[.065,-.151,.2],[.074,-.147,.2],[.075,-.151,.2],[.080,-.155,.18],[.072,-.193,.2],[.075,-.176,.2],[.080,-.172,.19],[.096,-.135,.19],[.097,-.143,.09],[.107,-.131,.09],[.100,-.150,.19],[.102,-.160,.08],[.105,-.167,.09],[.112,-.145,.18],[.110,-.159,.09],[.122,-.140,.17],[.118,-.160,.08],[.125,-.153,.06],[.128,-.160,.08],[.133,-.150,.19],[.134,-.130,.04],[.135,-.147,.18],[.135,-.167,.04],[.132,-.180,.04],[.103,-.187,.09],[.128,-.196,.19],[.127,-.202,.05],[.148,-.196,.19],[.145,-.138,.08],[.155,-.115,.08],[.160,-.135,.04],[.155,-.146,.04],[.145,-.150,.04],[.162,-.142,.04],[.165,-.130,.04],[.163,-.160,.08],[.175,-.127,.08],[.167,-.190,.08],[.172,-.175,.18],[.168,-.182,.03],[.172,-.190,.03],[.175,-.187,.03],[.175,-.150,.03],[.180,-.148,.08],[.182,-.165,.08],[.185,-.170,.03],[.190,-.155,.03],[.195,-.148,.03],[.197,-.170,.03],[.207,-.175,.03],[.180,-.185,.03],[.175,-.200,.03],[.190,-.192,.03],[.200,-.197,.03],[.187,-.205,.03],[.187,-.212,.03],[.188,-.218,.03],[.165,-.222,.03],[.195,-.218,.03],[.190,-.225,.17],[.185,-.228,.14],[.205,-.223,.09],[.185,-.230,.03],[.160,-.209,.08],[.158,-.243,.1],[.197,-.237,.12],[.192,-.250,.04],
[.205,-.115,.12],[.208,-.125,.03],[.212,-.137,.03],[.215,-.138,.03],[.212,-.108,.03],[.218,-.118,.03],[.218,-.110,.03],[.205,-.100,.03],[.213,-.098,.03],[.218,-.100,.03],[.205,-.086,.03],[.212,-.088,.03],[.215,-.092,.03],[.222,-.087,.03],[.218,-.082,.03],[.208,-.075,.03],[.215,-.070,.03],[.225,-.064,.1],[.218,-.057,.03],[.222,-.055,.03],[.230,-.052,.03],[.220,-.047,.03],[.235,-.045,.03],[.225,-.037,.03],[.232,-.037,.03],[.238,-.042,.03],[.230,-.032,.08],[.240,-.030,.03],[.245,-.050,.09],[.255,-.058,.03],[.248,-.049,.08],[.228,-.024,.03],[.237,-.020,.03],[.245,-.022,.03],[.255,-.024,.03],[.262,-.022,.03],[.265,-.035,.03],[.272,-.048,.03],[.228,-.012,.03],[.235,-.013,.03],[.240,-.013,.03],[.247,-.015,.03],[.252,-.012,.03],[.258,-.010,.03],[.265,-.012,.03],[.270,-.015,.03],[.275,-.020,.03],[.275,-.012,.03],[.280,-.024,.03],[.285,-.027,.03],[.235,-.008,.03],[.242,-.006,.03],[.248,-.008,.03],[.260,-.003,.03],[.240,-.001,.03],[.245,-.001,.03],[.260,.000,.03],[.287,.000,.03],[.287,-.030,.03],[.300,-.025,.09],[.290,-.040,.03],[.295,-.047,.03],[.298,-.050,.03],[.290,-.052,.03],[.305,-.038,.03],[.300,-.012,.03],[.300,-.008,.03],[.300,-.010,.03],[.303,-.007,.03],[.310,-.020,.03],[.322,-.025,.03],[.320,-.032,.09],[.325,-.040,.03],[.322,-.044,.03],[.318,-.047,.03],[.325,-.050,.03],[.330,-.055,.03],[.315,-.060,.03],[.325,-.060,.03],[.330,-.065,.03],[.322,-.065,.18],[.328,-.073,.03],[.305,-.070,.03],[.288,-.078,.03],[.318,-.085,.03],[.312,-.087,.03],[.312,-.090,.03],
[.335,-.008,.03],[.342,-.007,.03],[.352,.009,.03],[.364,.007,.03],[.383,-.013,.03],[.372,.036,.03],[.342,.031,.03],[.336,.036,.03],[.355,.027,.03],[.362,.029,.03],[.332,.034,.03],[.336,.028,.03],[.380,.038,.19],[.396,.035,.03],[.396,.030,.03],[.398,.025,.03],[.392,.047,.03],[.405,.050,.03],[.375,.060,.03],[.362,.067,.03],[.352,.076,.03],[.393,.072,.03],[.405,.073,.1],[.412,.077,.03],[.435,.072,.03],[.385,.090,.03],[.392,.090,.03],[.405,.093,.03],[.423,.093,.03],[.412,.110,.03],[.432,.099,.03],[.380,.122,.03],[.358,.126,.2],[.402,.130,.03],[.405,.133,.09],[.414,.140,.03],[.430,.155,.09],[.435,.147,.03],[.423,.190,.03],[.430,.202,.03],[.450,.185,.03],[.478,.195,.03],[.525,.199,.2],[.527,.194,.03],[.545,.193,.03],[.612,.186,.03],[.482,.178,.03],[.505,.180,.03],[.495,.172,.19],[.560,.176,.03],[.468,.168,.03],[.478,.167,.03],[.492,.167,.03],[.515,.172,.03],[.522,.170,.03],[.530,.168,.03],[.540,.165,.03],[.558,.167,.03],[.575,.165,.03],[.588,.163,.03],[.470,.157,.03],[.495,.156,.03],[.527,.158,.03],[.540,.155,.03],[.555,.157,.03],[.572,.157,.03],[.630,.155,.03],[.460,.148,.03],[.470,.147,.03],[.488,.147,.2],[.510,.147,.03],[.528,.150,.03],[.535,.150,.03],[.555,.148,.03],[.445,.145,.03],[.455,.142,.03],[.465,.143,.03],[.480,.142,.03],[.520,.140,.03],[.530,.142,.03],[.548,.141,.03],[.578,.145,.03],[.610,.143,.03],[.445,.135,.03],[.455,.135,.03],[.470,.136,.03],[.490,.135,.03],[.500,.133,.03],[.515,.135,.03],[.540,.135,.03],[.560,.137,.03],[.595,.137,.03],[.618,.140,.03],[.622,.134,.03],[.640,.138,.09],[.668,.139,.03],[.692,.133,.09],[.745,.149,.04],[.755,.138,.03],[.732,.129,.09],[.916,.145,.03],[.815,.125,.03],[.893,.122,.04],[1.0,.125,.14],[.732,.115,.03],[.430,.125,.03],[.440,.125,.03],[.452,.125,.03],[.465,.128,.03],[.475,.128,.03],[.490,.127,.03],[.505,.127,.03],[.515,.127,.03],[.530,.127,.03],[.545,.125,.03],[.552,.121,.19],[.575,.125,.03],[.588,.123,.09],[.430,.122,.03],[.445,.120,.03],[.458,.116,.19],[.470,.120,.03],[.485,.120,.03],[.495,.120,.03],[.510,.120,.03],[.525,.120,.03],[.540,.120,.03],[.560,.120,.03],[.585,.118,.03],[.445,.115,.03],[.465,.115,.03],[.475,.113,.03],[.490,.113,.03],[.505,.113,.03],[.520,.112,.03],[.535,.115,.03],[.555,.113,.03],[.575,.115,.03],[.430,.107,.09],[.463,.105,.03],[.478,.105,.03],[.495,.107,.03],[.510,.108,.03],[.528,.110,.03],[.550,.105,.03],[.645,.107,.03],[.655,.109,.03],[.658,.107,.03],[.490,.102,.03],[.500,.100,.03],[.513,.101,.19],[.535,.098,.03],[.550,.100,.03],[.605,.097,.19],[.612,.098,.03],[.618,.098,.03],[.445,.095,.03],[.455,.090,.19],[.458,.092,.03],[.505,.085,.03]
];

const elevationTicks = [0.05, 0.10, 0.15, 0.20, 0.25];
const popTicks = [0.1, 0.2, 0.3, 0.4, 0.5, 0.6];
const twiTicks = [0.2, 0.3, 0.4, 0.5, 0.6];
const slopeTicks = [0.025, 0.05, 0.075, 0.1, 0.125, 0.15, 0.175, 0.2];
const xTicks = [0, 0.2, 0.4, 0.6, 0.8, 1.0];

const SERIF = "'Liberation Serif'";
const SANS = "'Liberation Sans'";
const TICK_PX = 26;
const TITLE_PX = 34;
const TAG_PX = 50;
const TICK_COLOR = "#2b2b2b";
const PLOT_BG = "#eaeaf2";

const colorStops: [number, number[]][] = [
  [0, [0, 139, 251]], [0.15, [0, 120, 244]], [0.24, [0, 104, 230]], [0.3, [92, 99, 222]],
  [0.38, [138, 79, 204]], [0.47, [173, 46, 173]], [0.57, [204, 0, 163]], [0.68, [230, 0, 154]],
  [0.78, [247, 0, 130]], [1, [255, 0, 81]],
];

function rampColor(t: number): string {
  const v = Math.min(1, Math.max(0, t));
  for (let i = 1; i < colorStops.length; i++) {
    const [a, ca] = colorStops[i - 1];
    const [b, cb] = colorStops[i];
    if (v <= b) {
      const f = (v - a) / (b - a);
      return `rgb(${ca.map((c, k) => Math.round(c + (cb[k] - c) * f)).join(",")})`;
    }
  }
  return "rgb(255,0,81)";
}

const fmt = (v: number, d: number) => (v < 0 ? "\u2212" : "") + Math.abs(v).toFixed(d);

type Panel = {
  tag: string; tagX: number; tagY: number;
  pts: number[][]; c: number;
  xLabel: string; yLabel: string; cLabel: string;
  plot: number[];
  xRange: number[]; yRange: number[]; cRange: number[];
  yTicks: number[]; yDec: number; cTicks: number[]; cDec: number;
  yTitleX: number; yTitleDy: number; xTitleDy: number; xTitleDx: number;
  bar: number[]; cTitle: number[];
};

const panels: Panel[] = [
  { tag: "(a)", tagX: 42, tagY: 47, pts: droPoints, c: 2, xLabel: "DRO", yLabel: "SHAP value for DRO", cLabel: "Elevation",
    plot: [150, 917, 31, 655], xRange: [-0.05, 1.049], yRange: [-0.28, 0.3085], cRange: [0.029, 0.298],
    yTicks: [-0.2, -0.1, 0, 0.1, 0.2, 0.3], yDec: 1, cTicks: elevationTicks, cDec: 2,
    yTitleX: 44, yTitleDy: 5, xTitleDy: 63, xTitleDx: -3, bar: [967, 976], cTitle: [1081, 378] },
  { tag: "(b)", tagX: 1170, tagY: 47, pts: droPoints, c: 3, xLabel: "DRO", yLabel: "SHAP value for DRO", cLabel: "POP",
    plot: [1291, 2069, 24.5, 656], xRange: [-0.051, 1.05], yRange: [-0.279, 0.309], cRange: [0.02, 0.621],
    yTicks: [-0.2, -0.1, 0, 0.1, 0.2, 0.3], yDec: 1, cTicks: popTicks, cDec: 1,
    yTitleX: 1170, yTitleDy: 8, xTitleDy: 62, xTitleDx: 24, bar: [2118, 2127], cTitle: [2228, 360] },
  { tag: "(c)", tagX: 2334, tagY: 50, pts: droPoints, c: 4, xLabel: "DRO", yLabel: "SHAP value for DRO", cLabel: "TWI",
    plot: [2437, 3217, 24.5, 656], xRange: [-0.049, 1.051], yRange: [-0.279, 0.309], cRange: [0.124, 0.609],
    yTicks: [-0.2, -0.1, 0, 0.1, 0.2, 0.3], yDec: 1, cTicks: twiTicks, cDec: 1,
    yTitleX: 2334, yTitleDy: 11, xTitleDy: 61, xTitleDx: 4, bar: [3266, 3275], cTitle: [3394, 360] },
  { tag: "(d)", tagX: 42, tagY: 786, pts: driPoints, c: 2, xLabel: "DRI", yLabel: "SHAP value for DRI", cLabel: "TWI",
    plot: [152, 919, 754.5, 1377], xRange: [-0.049, 1.05], yRange: [-0.082, 0.0927], cRange: [0.1246, 0.6095],
    yTicks: [-0.08, -0.06, -0.04, -0.02, 0, 0.02, 0.04, 0.06, 0.08], yDec: 2, cTicks: twiTicks, cDec: 1,
    yTitleX: 38, yTitleDy: 9, xTitleDy: 64, xTitleDx: -5, bar: [968, 977], cTitle: [1081, 1093] },
  { tag: "(e)", tagX: 1172, tagY: 789, pts: elevationPoints, c: 2, xLabel: "Elevation", yLabel: "SHAP value for Elevation", cLabel: "POP",
    plot: [1291, 2069, 751, 1379], xRange: [-0.051, 1.05], yRange: [-0.4175, 0.1965], cRange: [0.0205, 0.6195],
    yTicks: [-0.4, -0.3, -0.2, -0.1, 0, 0.1], yDec: 1, cTicks: popTicks, cDec: 1,
    yTitleX: 1161, yTitleDy: 6, xTitleDy: 59, xTitleDx: 20, bar: [2118, 2127], cTitle: [2228, 1075] },
  { tag: "(f)", tagX: 2334, tagY: 789, pts: elevationPoints, c: 3, xLabel: "Elevation", yLabel: "SHAP value for Elevation", cLabel: "TWI",
    plot: [2443, 3221, 754.5, 1377], xRange: [-0.0485, 1.0494], yRange: [-0.417, 0.199], cRange: [0.1246, 0.6095],
    yTicks: [-0.4, -0.3, -0.2, -0.1, 0, 0.1], yDec: 1, cTicks: twiTicks, cDec: 1,
    yTitleX: 2327, yTitleDy: 7, xTitleDy: 62, xTitleDx: -3, bar: [3271, 3280], cTitle: [3400, 1045] },
  { tag: "(g)", tagX: 45, tagY: 1507, pts: nlPoints, c: 2, xLabel: "NL", yLabel: "SHAP value for NL", cLabel: "Elevation",
    plot: [162, 919, 1486, 2083], xRange: [-0.05, 1.0485], yRange: [-0.1871, 0.0553], cRange: [0.0291, 0.298],
    yTicks: [-0.15, -0.1, -0.05, 0, 0.05], yDec: 2, cTicks: elevationTicks, cDec: 2,
    yTitleX: 44, yTitleDy: 6, xTitleDy: 64, xTitleDx: 1, bar: [968, 977], cTitle: [1081, 1821] },
  { tag: "(h)", tagX: 1176, tagY: 1509, pts: popPoints, c: 2, xLabel: "POP", yLabel: "SHAP value for POP", cLabel: "TWI",
    plot: [1287, 2065, 1486, 2088], xRange: [-0.05, 1.0489], yRange: [-0.328, 0.1566], cRange: [0.1243, 0.6098],
    yTicks: [-0.3, -0.2, -0.1, 0, 0.1], yDec: 1, cTicks: twiTicks, cDec: 1,
    yTitleX: 1170, yTitleDy: 3, xTitleDy: 58, xTitleDx: 22, bar: [2114, 2124], cTitle: [2228, 1803] },
  { tag: "(i)", tagX: 2338, tagY: 1510, pts: twiPoints, c: 2, xLabel: "TWI", yLabel: "SHAP value for TWI", cLabel: "Slope",
    plot: [2438, 3222, 1477, 2085], xRange: [-0.0505, 1.0498], yRange: [-0.2716, 0.2241], cRange: [0.0036, 0.2063],
    yTicks: [-0.2, -0.1, 0, 0.1, 0.2], yDec: 1, cTicks: slopeTicks, cDec: 3,
    yTitleX: 2334, yTitleDy: 13, xTitleDy: 66, xTitleDx: 1, bar: [3272, 3282], cTitle: [3404, 1801] },
];

const plotBackground = {
  id: "plotBackground",
  beforeDraw(chart: any, _a: any, opts: any) {
    if (!opts.color) return;
    const { left, top, width, height } = chart.chartArea;
    chart.ctx.save();
    chart.ctx.fillStyle = opts.color;
    chart.ctx.fillRect(left, top, width, height);
    chart.ctx.restore();
  },
};

// moves the axis titles to where the reference has them
const titleShift = {
  id: "titleShift",
  afterUpdate(chart: any, _a: any, opts: any) {
    if (!chart.scales.x || !chart.scales.y || opts.dx === undefined) return;
    const sx = chart.scales.x;
    if (!sx.__wrapped) {
      const dtx = sx.drawTitle.bind(sx);
      sx.__wrapped = true;
      sx.drawTitle = () => {
        const l = sx.left, r = sx.right;
        sx.left += opts.dx; sx.right += opts.dx;
        dtx();
        sx.left = l; sx.right = r;
      };
    }
    const sy = chart.scales.y;
    if (!sy.__wrapped) {
      const dty = sy.drawTitle.bind(sy);
      sy.__wrapped = true;
      sy.drawTitle = () => {
        const t = sy.top, b = sy.bottom;
        sy.top += opts.dy; sy.bottom += opts.dy;
        dty();
        sy.top = t; sy.bottom = b;
      };
    }
  },
};

const barLabel = {
  id: "barLabel",
  afterDraw(chart: any, _a: any, opts: any) {
    if (!opts.text) return;
    const c = chart.ctx;
    c.save();
    c.translate(opts.x, opts.y);
    c.rotate(-Math.PI / 2);
    c.font = `${TITLE_PX}px ${SERIF}`;
    c.fillStyle = "#000";
    c.textAlign = "center";
    c.textBaseline = "middle";
    c.fillText(opts.text, 0, 0);
    c.restore();
  },
};

function scatterConfig(p: Panel, axisW: number, axisH: number, padTop: number, padRight: number) {
  const [cMin, cMax] = p.cRange;
  return {
    type: "scatter",
    data: {
      datasets: [{
        data: p.pts.map((r) => ({ x: r[0], y: r[1] })),
        pointBackgroundColor: p.pts.map((r) => rampColor((r[p.c] - cMin) / (cMax - cMin))),
        pointBorderWidth: 0,
        pointRadius: 4.6,
      }],
    },
    options: {
      animation: false,
      responsive: false,
      devicePixelRatio: 1,
      layout: { padding: { top: padTop, right: padRight, left: 0, bottom: 0 } },
      plugins: {
        legend: { display: false },
        tooltip: { enabled: false },
        plotBackground: { color: PLOT_BG },
        titleShift: { dx: p.xTitleDx, dy: p.yTitleDy },
        barLabel: {},
      },
      scales: {
        x: {
          type: "linear", min: p.xRange[0], max: p.xRange[1],
          afterBuildTicks: (s: any) => { s.ticks = xTicks.map((value) => ({ value })); },
          afterFit: (s: any) => { s.height = axisH; s.paddingLeft = 0; s.paddingRight = 0; },
          grid: { color: "#fff", lineWidth: 2.4, drawTicks: false },
          border: { display: false },
          ticks: { color: TICK_COLOR, font: { family: SANS, size: TICK_PX }, padding: 10, maxRotation: 0, autoSkip: false,
            callback: (v: any) => fmt(v, 1) },
          title: { display: true, text: p.xLabel, color: "#000", font: { family: SERIF, size: TITLE_PX, lineHeight: 1 }, padding: 0 },
        },
        y: {
          type: "linear", min: p.yRange[0], max: p.yRange[1],
          afterBuildTicks: (s: any) => { s.ticks = p.yTicks.map((value) => ({ value })); },
          afterFit: (s: any) => { s.width = axisW; s.paddingTop = 0; s.paddingBottom = 0; },
          grid: { color: "#fff", lineWidth: 2.4, drawTicks: false },
          border: { display: false },
          ticks: { color: TICK_COLOR, font: { family: SANS, size: TICK_PX }, padding: 16, autoSkip: false,
            callback: (v: any) => fmt(v, p.yDec) },
          title: { display: true, text: p.yLabel, color: "#000", font: { family: SERIF, size: TITLE_PX, lineHeight: 1 }, padding: 0 },
        },
      },
    },
    plugins: [plotBackground, titleShift, barLabel],
  };
}

function colorbarConfig(p: Panel, padV: number, labelX: number, labelY: number, axisW: number) {
  return {
    type: "bar",
    data: {
      labels: [p.cLabel],
      datasets: [{
        data: [p.cRange],
        borderWidth: 0,
        barPercentage: 1,
        categoryPercentage: 1,
        borderSkipped: false,
        backgroundColor: (ctx: any) => {
          const a = ctx.chart.chartArea;
          if (!a) return "#008bfb";
          const g = ctx.chart.ctx.createLinearGradient(0, a.bottom, 0, a.top);
          colorStops.forEach(([t]) => g.addColorStop(t, rampColor(t)));
          return g;
        },
      }],
    },
    options: {
      animation: false,
      responsive: false,
      devicePixelRatio: 1,
      layout: { padding: { top: padV, bottom: padV, left: 0, right: 0 } },
      plugins: {
        legend: { display: false },
        tooltip: { enabled: false },
        barLabel: { text: p.cLabel, x: labelX, y: labelY },
      },
      scales: {
        x: { display: false },
        y: {
          position: "right",
          min: p.cRange[0], max: p.cRange[1],
          afterBuildTicks: (s: any) => { s.ticks = p.cTicks.map((value) => ({ value })); },
          afterFit: (s: any) => { s.width = axisW; s.paddingTop = 0; s.paddingBottom = 0; },
          grid: { display: false, drawTicks: false },
          border: { display: false },
          ticks: { color: TICK_COLOR, font: { family: SANS, size: TICK_PX }, padding: 17, autoSkip: false,
            callback: (v: any) => fmt(v, p.cDec) },
        },
      },
    },
    plugins: [barLabel],
  };
}

function PanelChart({ p }: { p: Panel }) {
  const plotRef = useRef<HTMLCanvasElement>(null);
  const barRef = useRef<HTMLCanvasElement>(null);
  const [l, r, t, b] = p.plot;
  const padTop = 25, padRight = 40;
  const cvLeft = p.yTitleX - TITLE_PX / 2;
  const axisW = l - cvLeft;
  const axisH = p.xTitleDy + TITLE_PX / 2 + 4;
  const cvW = Math.round(axisW + (r - l) + padRight);
  const cvH = Math.round(padTop + (b - t) + axisH);

  const padV = 25;
  const barW = p.bar[1] - p.bar[0];
  const barCvW = Math.round(p.cTitle[0] + 30 - p.bar[0]);
  const barCvH = Math.round(b - t + padV * 2);
  const labelX = p.cTitle[0] - p.bar[0];
  const labelY = p.cTitle[1] - (t - padV);

  useEffect(() => {
    const c1 = new Chart(plotRef.current as any, scatterConfig(p, axisW, axisH, padTop, padRight) as any);
    const c2 = new Chart(barRef.current as any, colorbarConfig(p, padV, labelX, labelY, barCvW - barW) as any);
    return () => { c1.destroy(); c2.destroy(); };
  }, []);

  return (
    <>
      <canvas ref={plotRef} width={cvW} height={cvH} style={{ position: "absolute", left: cvLeft, top: t - padTop }} />
      <canvas ref={barRef} width={barCvW} height={barCvH} style={{ position: "absolute", left: p.bar[0], top: t - padV }} />
      <div style={{ position: "absolute", left: p.tagX, top: p.tagY, transform: "translate(-50%,-50%)",
        font: `${TAG_PX}px ${SERIF}`, color: "#000", whiteSpace: "nowrap" }}>{p.tag}</div>
    </>
  );
}

export default function App() {
  return (
    <div style={{ position: "fixed", left: 0, top: 0, width: 3437, height: 2185, background: "#fff", overflow: "hidden" }}>
      {panels.map((p) => <PanelChart key={p.tag} p={p} />)}
    </div>
  );
}
